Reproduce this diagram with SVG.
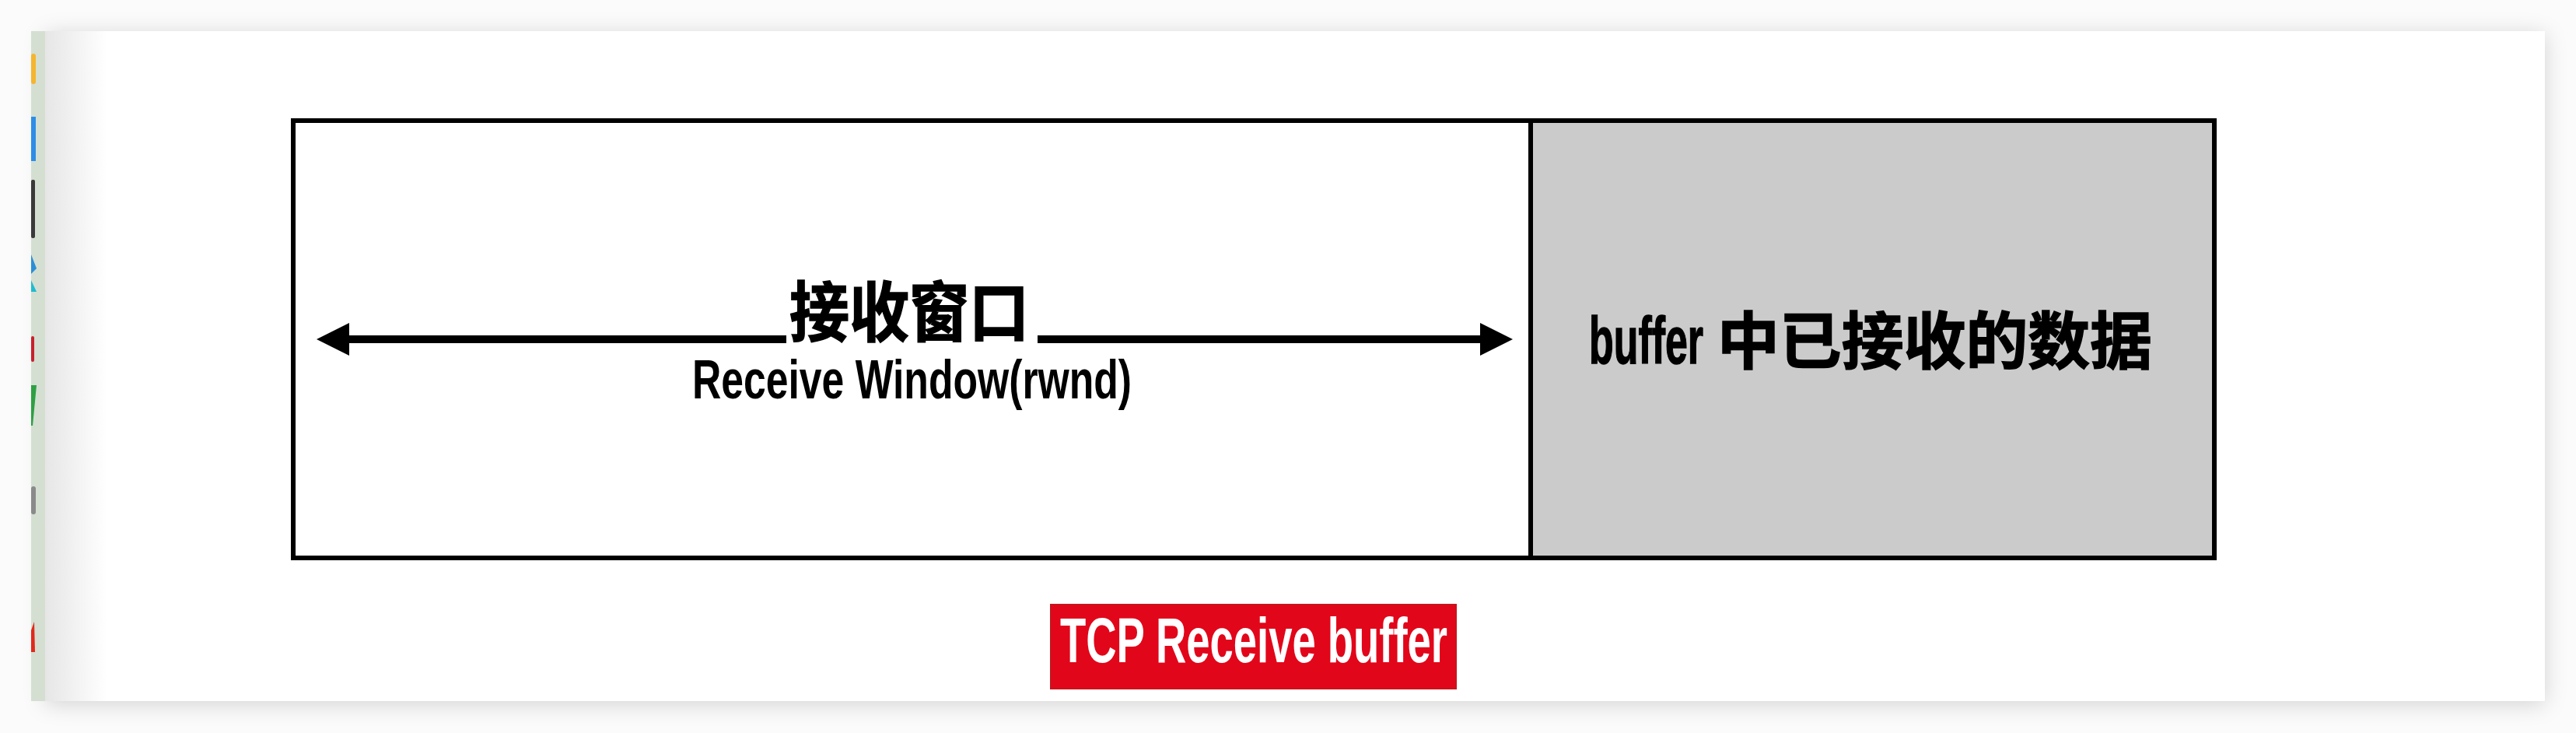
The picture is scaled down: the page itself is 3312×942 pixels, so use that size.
<svg xmlns="http://www.w3.org/2000/svg" width="3312" height="942" viewBox="0 0 3312 942">
<style>
.box{stroke:#000;stroke-width:6}
.cjk{font-family:"Liberation Sans","Noto Sans CJK SC",sans-serif;font-weight:bold;fill:#000;stroke:#000;stroke-width:1.5}
.lat{font-family:"Liberation Sans","Noto Sans CJK SC",sans-serif;font-weight:bold;fill:#000}
.conn{stroke:#000;stroke-width:10;fill:none}
</style>
<defs>
<filter id="sh" x="-5%" y="-20%" width="110%" height="140%">
<feDropShadow dx="0" dy="4" stdDeviation="14" flood-color="#000" flood-opacity="0.16"/>
</filter>
<linearGradient id="lg" x1="0" y1="0" x2="1" y2="0">
<stop offset="0" stop-color="#e6e6e6"/>
<stop offset="1" stop-color="#ffffff"/>
</linearGradient>
<marker id="ah" markerUnits="userSpaceOnUse" markerWidth="44" markerHeight="44" refX="22" refY="21" orient="auto">
<path d="M0,0 L42,21 L0,42 Z" fill="#000"/>
</marker>
</defs>
<rect x="0" y="0" width="3312" height="942" fill="#fbfbfb"/>
<g id="card">
<rect x="58" y="40" width="3214" height="861" fill="#ffffff" filter="url(#sh)"/>
<rect x="58" y="40" width="80" height="861" fill="url(#lg)"/>
<rect x="40" y="40" width="18" height="861" fill="#d4dfd2"/>
<rect x="40" y="69" width="6" height="39" rx="3" fill="#f5b52e"/>
<rect x="40" y="150" width="6" height="57" fill="#2d8ee6"/>
<rect x="40" y="231" width="5" height="75" rx="2" fill="#3a3a3a"/>
<polygon points="40,327 47,345 40,352" fill="#2b8fd6"/>
<polygon points="40,360 47,375 40,375" fill="#1fbcd0"/>
<rect x="40" y="432" width="4" height="33" rx="2" fill="#c8202a"/>
<polygon points="40,495 47,495 42,547 40,547" fill="#2ea043"/>
<rect x="40" y="625" width="6" height="36" rx="3" fill="#8a8a8a"/>
<polygon points="40,838 45,838 44,799 40,810" fill="#e02a1a"/>
</g>
<g id="receive-window">
<rect class="box" x="377" y="155" width="1591" height="562" fill="#ffffff"/>
<text class="cjk" x="1015" y="432" font-size="84" textLength="308" lengthAdjust="spacingAndGlyphs">接收窗口</text>
<text class="lat" x="890" y="512" font-size="70" textLength="565" lengthAdjust="spacingAndGlyphs">Receive Window(rwnd)</text>
</g>
<g id="buffer-data">
<rect class="box" x="1968" y="155" width="879" height="562" fill="#cbcbcb"/>
<text class="cjk" x="2043" y="467" font-size="80"><tspan font-size="86" textLength="147" lengthAdjust="spacingAndGlyphs">buffer</tspan><tspan x="2208" textLength="559" lengthAdjust="spacingAndGlyphs">中已接收的数据</tspan></text>
</g>
<g id="connectors">
<path class="conn" d="M1011,436 L427,436" marker-end="url(#ah)"/>
<path class="conn" d="M1334,436 L1925,436" marker-end="url(#ah)"/>
</g>
<g id="tcp-label">
<rect x="1351" y="777" width="521" height="108" fill="#e2061a" stroke="#c8141c" stroke-width="2"/>
<text x="1363" y="851" font-size="82" font-family="Liberation Sans, sans-serif" font-weight="bold" fill="#ffffff" textLength="498" lengthAdjust="spacingAndGlyphs">TCP Receive buffer</text>
</g>
</svg>
